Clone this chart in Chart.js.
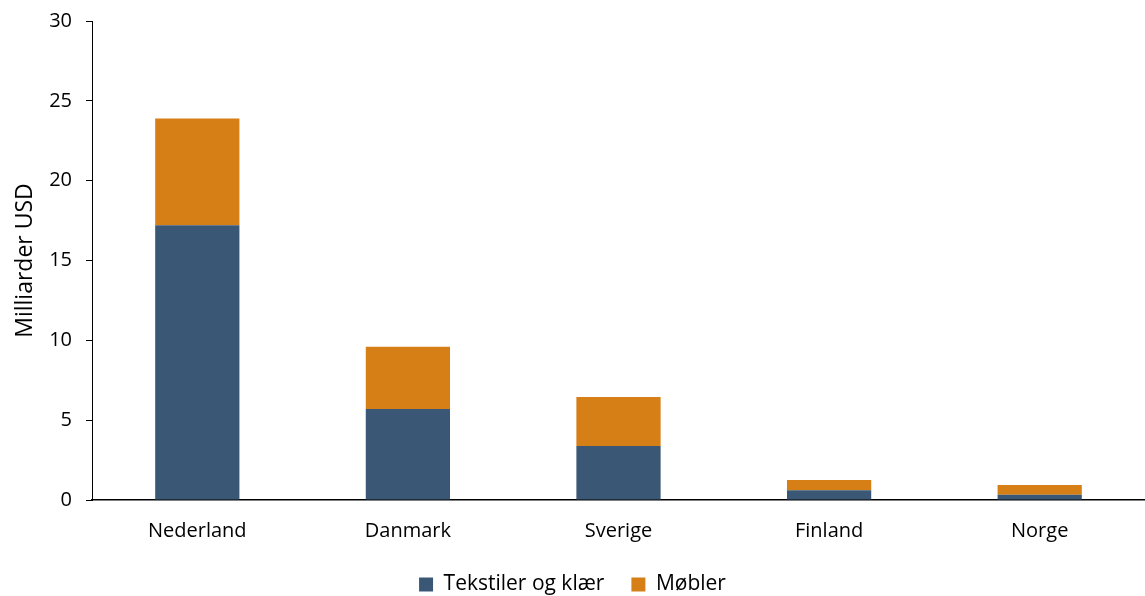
<!DOCTYPE html>
<html>
<head>
<meta charset="utf-8">
<script src="https://cdn.jsdelivr.net/npm/chart.js"></script>
<style>
  html, body { margin: 0; padding: 0; background: #ffffff; }
  #wrap { width: 1145px; height: 596px; }
</style>
</head>
<body>
<div id="wrap"><canvas id="chart"></canvas></div>
<script>
  const countries = ["Nederland", "Danmark", "Sverige", "Finland", "Norge"];
  const tekstiler = [17.2, 5.7, 3.38, 0.61, 0.33];
  const mobler = [6.7, 3.9, 3.07, 0.64, 0.61];
  const yTicks = [0, 5, 10, 15, 20, 25, 30];

  const FONT = '"Open Sans", "Noto Sans", sans-serif';

  Chart.defaults.font.family = FONT;
  Chart.defaults.color = "#000000";

  new Chart(document.getElementById("chart"), {
    type: "bar",
    data: {
      labels: countries,
      datasets: [
        {
          label: "Tekstiler og klær",
          data: tekstiler,
          backgroundColor: "#3a5875",
          categoryPercentage: 1,
          barPercentage: 0.4,
        },
        {
          label: "Møbler",
          data: mobler,
          backgroundColor: "#d77f17",
          categoryPercentage: 1,
          barPercentage: 0.4,
        },
      ],
    },
    options: {
      responsive: true,
      maintainAspectRatio: false,
      animation: false,
      layout: { padding: { top: 21, right: 0, left: 0, bottom: 0 } },
      plugins: {
        tooltip: { enabled: false },
        legend: {
          position: "bottom",
          maxHeight: 49,
          labels: {
            boxWidth: 14,
            boxHeight: 14,
            padding: 27,
            font: { size: 21 },
            color: "#000000",
          },
        },
      },
      scales: {
        x: {
          stacked: true,
          grid: { display: false },
          border: { display: true, color: "#000000", width: 1.5 },
          ticks: { font: { size: 20 }, color: "#000000", padding: 11 },
          afterFit: (s) => { s.height = 47; },
        },
        y: {
          stacked: true,
          min: 0,
          max: 30,
          afterBuildTicks: (s) => { s.ticks = yTicks.map((v) => ({ value: v })); },
          grid: {
            drawOnChartArea: false,
            drawTicks: true,
            tickLength: 6,
            color: "#000000",
          },
          border: { display: true, color: "#000000", width: 1 },
          ticks: { font: { size: 20 }, color: "#000000", padding: 14 },
          title: {
            display: true,
            text: "Milliarder USD",
            font: { size: 23 },
            color: "#000000",
            padding: { top: 12, bottom: 0 },
          },
          afterFit: (s) => {
            s.width = 92;
            s.paddingTop = 0;
            s.paddingBottom = 0;
          },
        },
      },
    },
  });
</script>
</body>
</html>
